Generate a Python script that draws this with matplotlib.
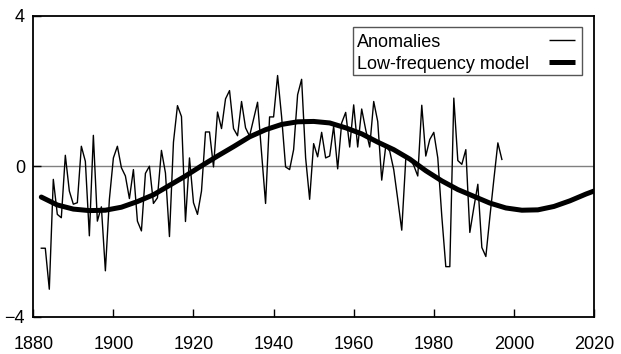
import numpy as np
import matplotlib
matplotlib.use("Agg")
import matplotlib.pyplot as plt
from matplotlib.patches import Rectangle

plt.rcParams["font.family"] = ["Liberation Sans", "DejaVu Sans"]

# yearly anomalies, 1882-1997
anom_start = 1882
anomalies = [
    -2.18, -2.18, -3.27, -0.35, -1.28, -1.37, 0.29, -0.66, -1.01, -0.97,   # 1882-1891
    0.53, 0.13, -1.85, 0.82, -1.46, -1.08, -2.78, -0.88, 0.22, 0.53,       # 1892-1901
    -0.04, -0.26, -0.86, -0.09, -1.46, -1.72, -0.19, 0.00, -0.99, -0.84,   # 1902-1911
    0.42, -0.18, -1.87, 0.64, 1.61, 1.32, -1.47, 0.22, -0.97, -1.28,       # 1912-1921
    -0.66, 0.91, 0.91, -0.02, 1.44, 1.00, 1.79, 2.01, 1.00, 0.81,          # 1922-1931
    1.72, 1.02, 0.80, 1.25, 1.70, 0.35, -0.99, 1.31, 1.31, 2.41,           # 1932-1941
    1.32, -0.02, -0.09, 0.44, 1.90, 2.31, 0.22, -0.88, 0.60, 0.25,         # 1942-1951
    0.90, 0.22, 0.27, 1.06, -0.07, 1.15, 1.43, 0.51, 1.63, 0.51,           # 1952-1961
    1.52, 0.97, 0.51, 1.72, 1.19, -0.37, 0.53, 0.40, -0.09, -0.88,         # 1962-1971
    -1.70, 0.18, 0.22, 0.02, -0.26, 1.62, 0.27, 0.71, 0.90, 0.22,          # 1972-1981
    -1.33, -2.67, -2.67, 1.81, 0.15, 0.05, 0.44, -1.76, -1.10, -0.48,      # 1982-1991
    -2.16, -2.40, -1.35, -0.35, 0.62, 0.18,                                # 1992-1997
]
anom_years = list(range(anom_start, anom_start + len(anomalies)))

# low-frequency model
model_years = [1882, 1886, 1890, 1894, 1898, 1902, 1906, 1910, 1914, 1918,
               1922, 1926, 1930, 1934, 1938, 1942, 1946, 1950, 1954, 1958,
               1962, 1966, 1970, 1974, 1978, 1982, 1986, 1990, 1994, 1998,
               2002, 2006, 2010, 2014, 2018, 2020]
model = [-0.82, -1.03, -1.14, -1.18, -1.17, -1.09, -0.94, -0.76, -0.51, -0.26,
         0.01, 0.27, 0.52, 0.78, 0.97, 1.11, 1.18, 1.19, 1.15, 1.02,
         0.86, 0.64, 0.44, 0.19, -0.12, -0.39, -0.62, -0.80, -0.98, -1.11,
         -1.17, -1.16, -1.07, -0.92, -0.74, -0.66]

x_ticks = [1880, 1900, 1920, 1940, 1960, 1980, 2000, 2020]
y_ticks = [-4, 0, 4]
labels = ["Anomalies", "Low-frequency model"]
widths = [1.0, 3.6]

fig = plt.figure(figsize=(6.21, 3.54), dpi=100)
ax = fig.add_axes([0.0536, 0.1054, 0.9029, 0.8502])

ax.axhline(0, color="#808080", lw=1.0, zorder=1)
ax.plot(anom_years, anomalies, color="black", lw=widths[0], zorder=3)
ax.plot(model_years, model, color="black", lw=widths[1],
        solid_capstyle="round", zorder=2)

ax.set_xlim(1880, 2020)
ax.set_ylim(-4, 4)
ax.set_xticks(x_ticks)
ax.set_yticks(y_ticks)
ax.tick_params(axis="x", direction="in", length=6, width=1, pad=14, labelsize=13)
ax.tick_params(axis="y", direction="in", length=6, width=1, pad=6, labelsize=13)
for s in ax.spines.values():
    s.set_linewidth(1.3)
    s.set_color("black")

# legend: text left-aligned, sample line on the right
ax.add_patch(Rectangle((0.5702, 0.803), 0.4084, 0.1595, transform=ax.transAxes,
                       facecolor="white", edgecolor="#555555", lw=1.0,
                       zorder=5, clip_on=False))
for i, (lab, w) in enumerate(zip(labels, widths)):
    base = 0.8977 - i * 0.0731
    mid = 0.9209 - i * 0.0731
    ax.text(0.5774, base, lab, transform=ax.transAxes, fontsize=13,
            ha="left", va="baseline", zorder=6)
    ax.plot([0.9197, 0.9661], [mid, mid], transform=ax.transAxes,
            color="black", lw=w, solid_capstyle="butt", zorder=6)

fig.savefig("out.png", dpi=100)
